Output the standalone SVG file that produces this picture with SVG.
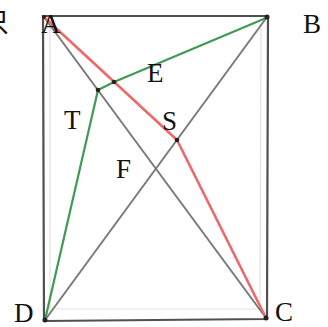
<svg xmlns="http://www.w3.org/2000/svg" width="328" height="327" viewBox="0 0 328 327">
<style>
.lbl{font-family:"Liberation Serif","Noto Sans CJK SC",serif;font-size:27px;fill:#111}
.frame{fill:none;stroke:#505050;stroke-width:2.2;stroke-linejoin:miter}
.faint{fill:none;stroke:#e2e2e2;stroke-width:1.2}
.diag{stroke:#7a7a7a;stroke-width:2;fill:none}
.red{stroke:#f06868;stroke-width:2.6;fill:none;stroke-linejoin:round}
.green{stroke:#3e9a55;stroke-width:2.2;fill:none;stroke-linejoin:round}
.pt{fill:#222}
</style>
<rect width="328" height="327" fill="#fff"/>
<text class="lbl" x="-18" y="32">只</text>
<g id="connectors">
<polyline class="faint" points="50,26 50,312"/>
<polyline class="faint" points="261,28 260,310"/>
<polyline class="faint" points="52,309 260,309"/>
<line id="AC" class="diag" x1="44" y1="17" x2="266" y2="318"/>
<line id="BD" class="diag" x1="267" y1="17" x2="45" y2="320"/>
<polyline id="ASC" class="red" points="45,18 177,140 266,318"/>
<polyline id="BETD" class="green" points="266,18 114,82 98,90 45,320"/>
</g>
<g id="frame">
<polygon class="frame" points="43,16 268,16 267,319 44,321"/>
</g>
<g id="node-A"><circle class="pt" cx="44" cy="17" r="2"/><text class="lbl" x="41" y="33">A</text></g>
<g id="node-B"><circle class="pt" cx="267" cy="17" r="2.5"/><text class="lbl" x="303" y="33">B</text></g>
<g id="node-C"><circle class="pt" cx="266" cy="318" r="2.5"/><text class="lbl" x="275" y="321">C</text></g>
<g id="node-D"><circle class="pt" cx="45" cy="320" r="2.5"/><text class="lbl" x="14" y="322">D</text></g>
<g id="node-E"><circle class="pt" cx="114" cy="82" r="2.3"/><text class="lbl" x="147" y="82">E</text></g>
<g id="node-T"><circle class="pt" cx="98" cy="90" r="2.3"/><text class="lbl" x="64" y="129">T</text></g>
<g id="node-S"><circle class="pt" cx="177" cy="140" r="2.3"/><text class="lbl" x="162" y="130">S</text></g>
<g id="node-F"><text class="lbl" x="116" y="178">F</text></g>
</svg>
